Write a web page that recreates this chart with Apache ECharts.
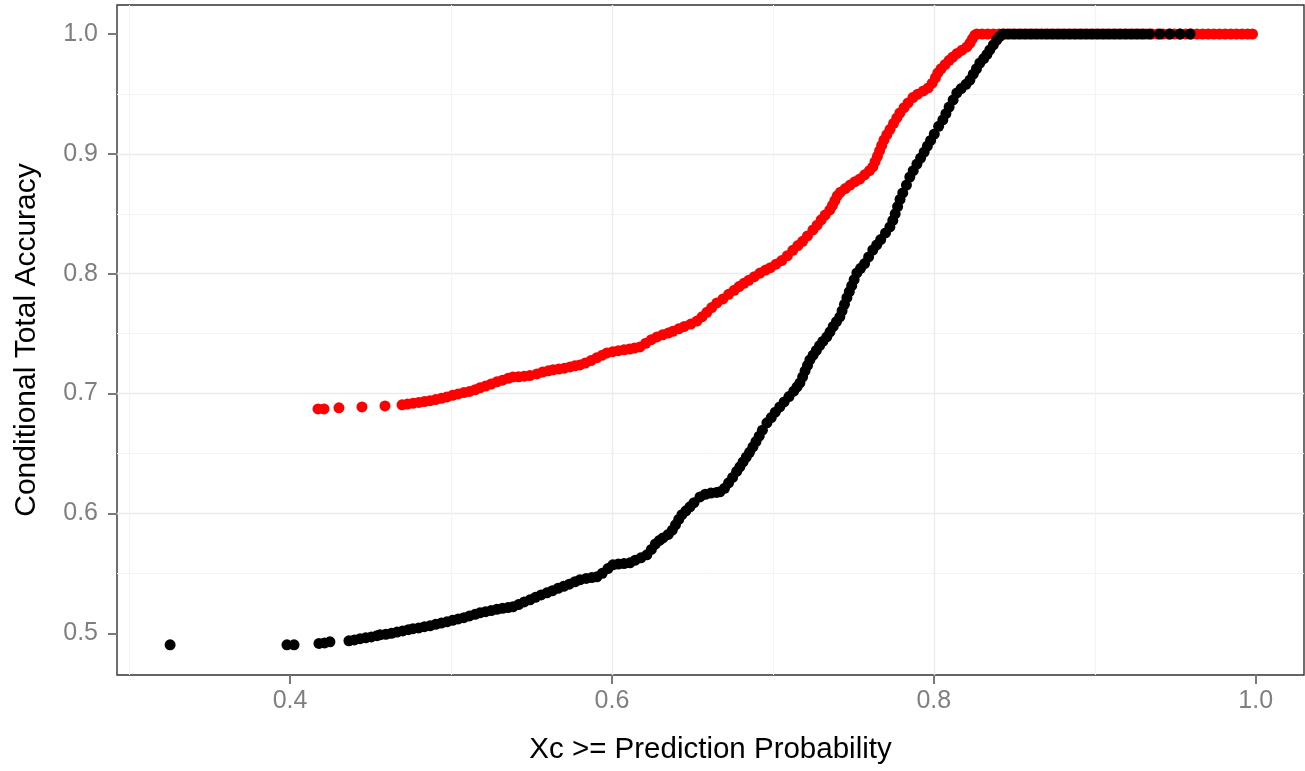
<!DOCTYPE html>
<html lang="en">
<head>
    <meta charset="UTF-8">
    <title>Conditional Total Accuracy</title>
    <script src="https://cdn.jsdelivr.net/npm/echarts@6.0.0/dist/echarts.min.js"></script>
    <style>
        body { margin: 0; background: #fff; }
        #main { width: 1305px; height: 771px; }
    </style>
</head>
<body>
    <div id="main"></div>
    <script>
        // tick values shown on the axes
        const xTicks = [0.4, 0.6, 0.8, 1.0]
        const yTicks = [0.5, 0.6, 0.7, 0.8, 0.9, 1.0]

        // red points [threshold, accuracy]
        const redPoints = [
            [0.4174,0.6872],[0.4211,0.6872],[0.4304,0.6881],[0.4447,0.6889],[0.4590,0.6897],
            [0.4696,0.6906],[0.4730,0.6912],[0.4765,0.6920],[0.4800,0.6926],[0.4835,0.6933],
            [0.4870,0.6941],[0.4905,0.6950],[0.4940,0.6960],[0.4975,0.6972],[0.5010,0.6985],
            [0.5045,0.6997],[0.5080,0.7008],[0.5115,0.7018],[0.5150,0.7032],[0.5180,0.7048],
            [0.5215,0.7063],[0.5250,0.7080],[0.5285,0.7098],[0.5320,0.7112],[0.5355,0.7127],
            [0.5385,0.7139],[0.5420,0.7140],[0.5455,0.7145],[0.5490,0.7150],[0.5534,0.7164],
            [0.5570,0.7180],[0.5605,0.7190],[0.5634,0.7198],[0.5670,0.7205],[0.5705,0.7212],
            [0.5740,0.7222],[0.5770,0.7232],[0.5801,0.7239],[0.5835,0.7255],[0.5870,0.7275],
            [0.5905,0.7298],[0.5940,0.7320],[0.5969,0.7339],[0.6005,0.7350],[0.6040,0.7358],
            [0.6075,0.7365],[0.6110,0.7372],[0.6140,0.7380],[0.6174,0.7389],[0.6210,0.7420],
            [0.6245,0.7450],[0.6280,0.7473],[0.6315,0.7490],[0.6350,0.7505],[0.6379,0.7520],
            [0.6415,0.7540],[0.6450,0.7560],[0.6490,0.7580],[0.6528,0.7605],[0.6560,0.7640],
            [0.6590,0.7678],[0.6620,0.7718],[0.6652,0.7756],[0.6690,0.7790],[0.6725,0.7828],
            [0.6760,0.7862],[0.6790,0.7893],[0.6820,0.7920],[0.6850,0.7945],[0.6885,0.7975],
            [0.6920,0.8005],[0.6955,0.8030],[0.6985,0.8050],[0.7020,0.8080],[0.7055,0.8110],
            [0.7090,0.8150],[0.7124,0.8195],[0.7155,0.8235],[0.7185,0.8270],[0.7215,0.8315],
            [0.7249,0.8365],[0.7275,0.8405],[0.7300,0.8450],[0.7325,0.8490],[0.7354,0.8532],
            [0.7370,0.8570],[0.7385,0.8610],[0.7400,0.8650],[0.7420,0.8680],[0.7450,0.8710],
            [0.7480,0.8740],[0.7510,0.8768],[0.7540,0.8790],[0.7570,0.8825],[0.7600,0.8860],
            [0.7621,0.8891],[0.7635,0.8935],[0.7650,0.8980],[0.7663,0.9025],[0.7676,0.9070],
            [0.7690,0.9115],[0.7708,0.9160],[0.7728,0.9205],[0.7750,0.9255],[0.7770,0.9300],
            [0.7789,0.9341],[0.7815,0.9385],[0.7840,0.9425],[0.7870,0.9470],[0.7900,0.9498],
            [0.7935,0.9525],[0.7965,0.9550],[0.7990,0.9590],[0.8010,0.9635],[0.8025,0.9675],
            [0.8045,0.9710],[0.8070,0.9745],[0.8095,0.9780],[0.8118,0.9808],[0.8145,0.9838],
            [0.8175,0.9865],[0.8205,0.9892],[0.8225,0.9925],[0.8240,0.9960],[0.8255,0.9990],
            [0.8267,1],[0.8300,1],[0.8335,1],[0.8370,1],[0.8405,1],[0.8440,1],[0.8475,1],
            [0.8510,1],[0.8545,1],[0.8580,1],[0.8615,1],[0.8650,1],[0.8690,1],[0.8725,1],
            [0.8760,1],[0.8795,1],[0.8830,1],[0.8865,1],[0.8900,1],[0.8935,1],[0.8970,1],
            [0.9005,1],[0.9040,1],[0.9075,1],[0.9110,1],[0.9145,1],[0.9180,1],[0.9215,1],
            [0.9250,1],[0.9285,1],[0.9320,1],[0.9355,1],[0.9390,1],[0.9425,1],[0.9460,1],
            [0.9495,1],[0.9530,1],[0.9565,1],[0.9600,1],[0.9635,1],[0.9670,1],[0.9705,1],
            [0.9740,1],[0.9775,1],[0.9810,1],[0.9845,1],[0.9880,1],[0.9915,1],[0.9950,1],
            [0.9980,1]
        ]

        // black points [threshold, accuracy]
        const blackPoints = [
            [0.3255,0.4904],[0.3981,0.4904],[0.4025,0.4904],[0.4180,0.4915],[0.4215,0.4920],
            [0.4248,0.4929],[0.4366,0.4937],[0.4400,0.4945],[0.4435,0.4955],[0.4470,0.4962],
            [0.4505,0.4970],[0.4540,0.4980],[0.4559,0.4987],[0.4595,0.4992],[0.4630,0.5000],
            [0.4665,0.5010],[0.4700,0.5020],[0.4735,0.5030],[0.4764,0.5038],[0.4800,0.5045],
            [0.4835,0.5055],[0.4870,0.5062],[0.4905,0.5075],[0.4940,0.5085],[0.4975,0.5096],
            [0.5010,0.5108],[0.5045,0.5120],[0.5080,0.5130],[0.5115,0.5145],[0.5150,0.5158],
            [0.5180,0.5171],[0.5215,0.5180],[0.5250,0.5190],[0.5285,0.5200],[0.5320,0.5208],
            [0.5355,0.5215],[0.5385,0.5221],[0.5420,0.5240],[0.5455,0.5262],[0.5491,0.5279],
            [0.5525,0.5300],[0.5560,0.5320],[0.5596,0.5338],[0.5630,0.5355],[0.5665,0.5375],
            [0.5700,0.5392],[0.5735,0.5410],[0.5770,0.5430],[0.5801,0.5446],[0.5840,0.5458],
            [0.5875,0.5465],[0.5907,0.5471],[0.5940,0.5500],[0.5975,0.5540],[0.6006,0.5571],
            [0.6040,0.5578],[0.6075,0.5582],[0.6112,0.5588],[0.6145,0.5610],[0.6180,0.5630],
            [0.6217,0.5655],[0.6245,0.5700],[0.6270,0.5745],[0.6295,0.5775],[0.6317,0.5796],
            [0.6350,0.5825],[0.6375,0.5860],[0.6395,0.5905],[0.6415,0.5950],[0.6435,0.5990],
            [0.6460,0.6022],[0.6485,0.6055],[0.6510,0.6090],[0.6547,0.6138],[0.6580,0.6160],
            [0.6615,0.6170],[0.6650,0.6175],[0.6671,0.6180],[0.6700,0.6210],[0.6725,0.6255],
            [0.6750,0.6300],[0.6775,0.6350],[0.6795,0.6389],[0.6815,0.6430],[0.6835,0.6470],
            [0.6855,0.6510],[0.6876,0.6555],[0.6895,0.6600],[0.6915,0.6645],[0.6935,0.6695],
            [0.6963,0.6756],[0.6990,0.6800],[0.7015,0.6845],[0.7043,0.6889],[0.7070,0.6930],
            [0.7100,0.6975],[0.7130,0.7020],[0.7150,0.7055],[0.7168,0.7089],[0.7185,0.7140],
            [0.7200,0.7190],[0.7215,0.7235],[0.7230,0.7281],[0.7250,0.7320],[0.7270,0.7360],
            [0.7290,0.7400],[0.7310,0.7435],[0.7335,0.7473],[0.7355,0.7515],[0.7375,0.7560],
            [0.7395,0.7600],[0.7416,0.7640],[0.7430,0.7690],[0.7445,0.7745],[0.7460,0.7800],
            [0.7475,0.7850],[0.7490,0.7900],[0.7505,0.7950],[0.7522,0.8007],[0.7545,0.8045],
            [0.7570,0.8085],[0.7595,0.8140],[0.7621,0.8198],[0.7645,0.8240],[0.7670,0.8285],
            [0.7700,0.8340],[0.7727,0.8390],[0.7745,0.8445],[0.7760,0.8500],[0.7775,0.8560],
            [0.7790,0.8620],[0.7807,0.8674],[0.7830,0.8740],[0.7851,0.8807],[0.7872,0.8860],
            [0.7895,0.8915],[0.7918,0.8965],[0.7940,0.9015],[0.7960,0.9065],[0.7980,0.9112],
            [0.8003,0.9165],[0.8030,0.9230],[0.8056,0.9283],[0.8075,0.9335],[0.8095,0.9390],
            [0.8120,0.9450],[0.8143,0.9508],[0.8170,0.9545],[0.8200,0.9580],[0.8224,0.9616],
            [0.8245,0.9665],[0.8265,0.9710],[0.8286,0.9758],[0.8310,0.9795],[0.8330,0.9830],
            [0.8348,0.9867],[0.8370,0.9910],[0.8391,0.9950],[0.8410,0.9980],[0.8429,1],
            [0.8460,1],[0.8495,1],[0.8530,1],[0.8565,1],[0.8600,1],[0.8635,1],[0.8670,1],
            [0.8705,1],[0.8740,1],[0.8775,1],[0.8810,1],[0.8845,1],[0.8880,1],[0.8915,1],
            [0.8950,1],[0.8985,1],[0.9020,1],[0.9055,1],[0.9090,1],[0.9125,1],[0.9160,1],
            [0.9195,1],[0.9230,1],[0.9265,1],[0.9300,1],[0.9340,1],[0.9405,1],[0.9467,1],
            [0.9530,1],[0.9592,1]
        ]

        const font = 'Liberation Sans, Arial, Helvetica, sans-serif'
        const gridColor = '#ececec'

        let chart = echarts.init(document.querySelector('#main'))
        let option = {
            animation: false,
            backgroundColor: '#ffffff',
            grid: {
                left: 117, top: 5, width: 1187, height: 670,
                show: true,
                borderColor: '#333333',
                borderWidth: 1.4,
                backgroundColor: 'transparent'
            },
            xAxis: {
                type: 'value',
                min: 0.2925,
                max: 1.03,
                splitNumber: 4,
                name: 'Xc >= Prediction Probability',
                nameLocation: 'middle',
                nameGap: 60,
                nameTextStyle: { color: '#000', fontSize: 29.5, fontFamily: font },
                axisLine: { show: false },
                axisTick: { show: true, length: 9, customValues: xTicks, lineStyle: { color: '#7a7a7a', width: 2 } },
                axisLabel: {
                    customValues: xTicks, margin: 14, color: '#7f7f7f', fontSize: 25, fontFamily: font,
                    formatter: v => v.toFixed(1)
                },
                splitLine: { show: true, showMinLine: false, showMaxLine: false, lineStyle: { color: gridColor, width: 1.4 } },
                minorTick: { show: false, splitNumber: 2 },
                minorSplitLine: { show: true, lineStyle: { color: '#f3f3f3', width: 1 } }
            },
            yAxis: {
                type: 'value',
                min: 0.4652,
                max: 1.0242,
                splitNumber: 6,
                name: 'Conditional Total Accuracy',
                nameLocation: 'middle',
                nameGap: 75,
                nameTextStyle: { color: '#000', fontSize: 30, fontFamily: font },
                axisLine: { show: false },
                axisTick: { show: true, length: 9, customValues: yTicks, lineStyle: { color: '#7a7a7a', width: 2 } },
                axisLabel: {
                    customValues: yTicks, margin: 19, color: '#7f7f7f', fontSize: 25, fontFamily: font,
                    formatter: v => v.toFixed(1)
                },
                splitLine: { show: true, showMinLine: false, showMaxLine: false, lineStyle: { color: gridColor, width: 1.4 } },
                minorTick: { show: false, splitNumber: 2 },
                minorSplitLine: { show: true, lineStyle: { color: '#f3f3f3', width: 1 } }
            },
            series: [
                {
                    name: 'red',
                    type: 'scatter',
                    data: redPoints,
                    symbol: 'circle',
                    symbolSize: 11,
                    itemStyle: { color: '#ff0000', opacity: 1 },
                    silent: true
                },
                {
                    name: 'black',
                    type: 'scatter',
                    data: blackPoints,
                    symbol: 'circle',
                    symbolSize: 11,
                    itemStyle: { color: '#000000', opacity: 1 },
                    silent: true
                }
            ]
        }
        chart.setOption(option)
    </script>
</body>
</html>
